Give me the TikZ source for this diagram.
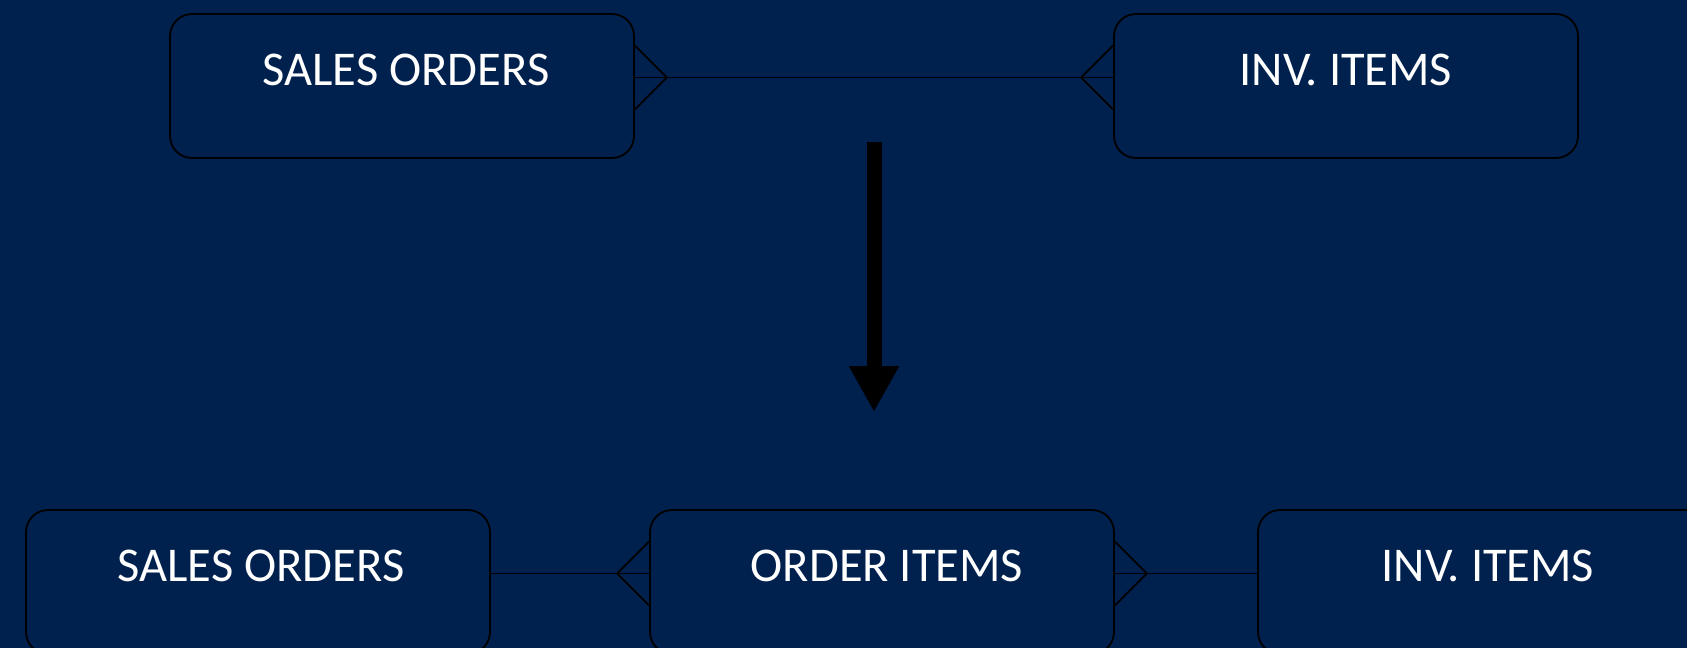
\documentclass[tikz,border=0pt]{standalone}
\usepackage{fontspec}
\setmainfont{Carlito}
\usetikzlibrary{arrows.meta}
\definecolor{navy}{RGB}{0,32,77}
\tikzset{
  entity/.style={draw=black, line width=1.8pt, fill=navy, rounded corners=22pt,
    minimum width=464pt, inner sep=0pt, text height=71pt, text depth=73pt,
    text=white, font=\fontsize{48.5}{58}\selectfont, align=center},
  rel/.style={draw=black, line width=1.8pt},
  bigarrow/.style={draw=black, line width=15pt, -{Triangle[length=46pt,width=47pt]}}
}
\begin{document}
\begin{tikzpicture}[x=1pt,y=-1pt]
\fill[navy] (0,0) rectangle (1687,648);
\useasboundingbox (0,0) rectangle (1687,648);
\begin{scope}
\clip (0,0) rectangle (1687,648);
% top row
\node[entity] (so1) at (402,86) {\hspace*{8pt}SALES ORDERS};
\node[entity] (inv1) at (1346,86) {INV. ITEMS};
% bottom row
\node[entity] (so2) at (258,582) {\hspace*{6pt}SALES ORDERS};
\node[entity] (oi) at (882,582) {\hspace*{10pt}ORDER ITEMS};
\node[entity] (inv2) at (1490,582) {INV. ITEMS\hspace*{4pt}};
\end{scope}
% top connector
\coordinate (a1) at ([yshift=8.5pt]so1.east);
\coordinate (b1) at ([yshift=8.5pt]inv1.west);
\draw[rel] (a1) -- (b1);
\draw[rel] ([yshift=32pt]a1) -- ([xshift=32pt]a1) -- ([yshift=-32pt]a1);
\draw[rel] ([yshift=32pt]b1) -- ([xshift=-32pt]b1) -- ([yshift=-32pt]b1);
% big arrow
\coordinate (as) at (874,142);
\coordinate (ae) at (874,412);
\draw[bigarrow] (as) -- (ae);
% bottom connectors
\coordinate (a2) at ([yshift=8.5pt]so2.east);
\coordinate (b2) at ([yshift=8.5pt]oi.west);
\draw[rel] (a2) -- (b2);
\draw[rel] ([yshift=32pt]b2) -- ([xshift=-32pt]b2) -- ([yshift=-32pt]b2);
\coordinate (c2) at ([yshift=8.5pt]oi.east);
\coordinate (d2) at ([yshift=8.5pt]inv2.west);
\draw[rel] (c2) -- (d2);
\draw[rel] ([yshift=32pt]c2) -- ([xshift=32pt]c2) -- ([yshift=-32pt]c2);
\end{tikzpicture}
\end{document}
